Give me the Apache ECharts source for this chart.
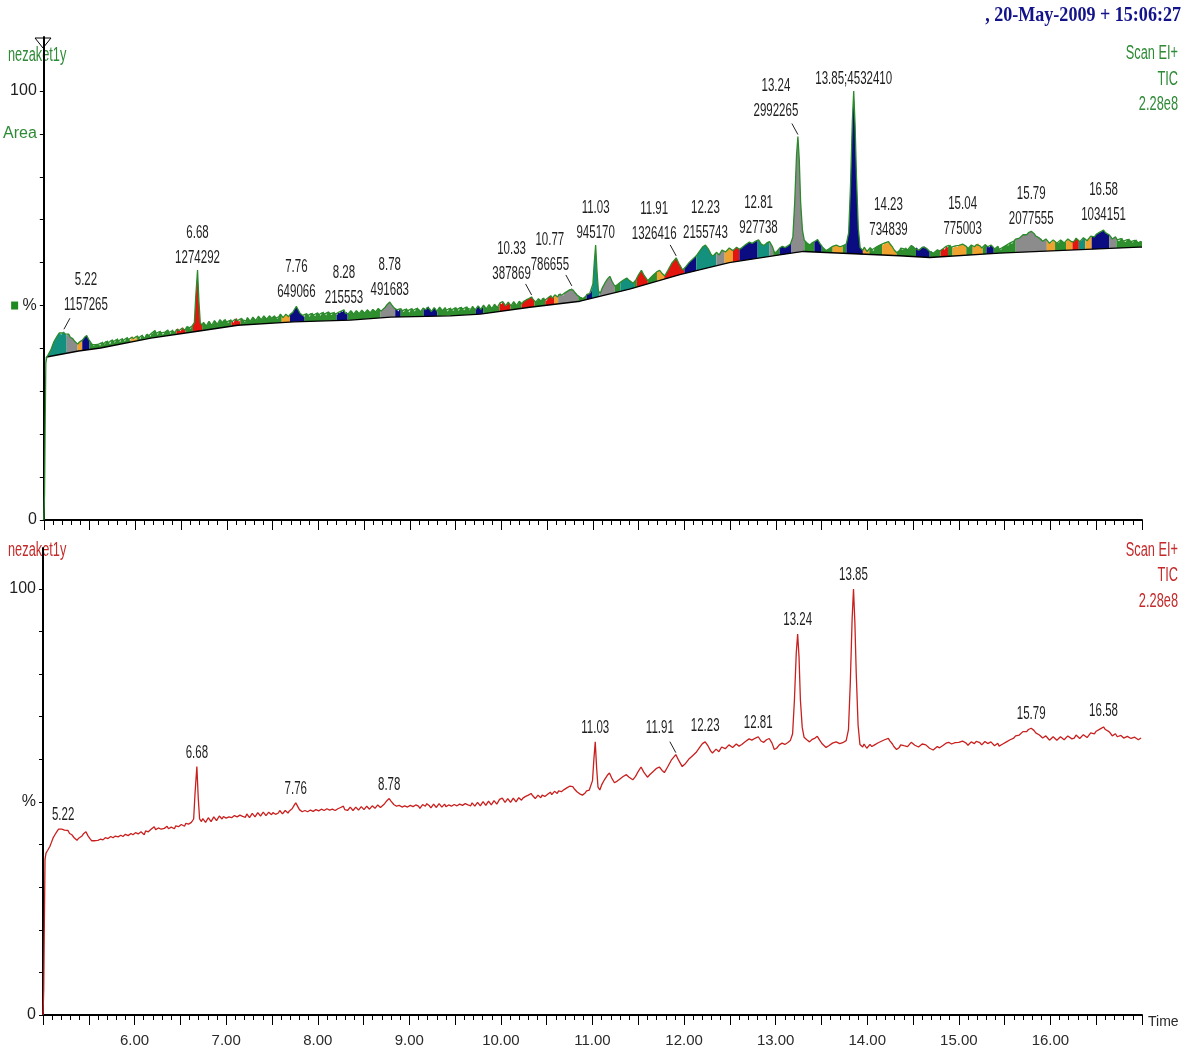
<!DOCTYPE html>
<html>
<head>
<meta charset="utf-8">
<title>nezaket1y TIC</title>
<script src="https://cdn.jsdelivr.net/npm/echarts@6/dist/echarts.min.js"></script>
<style>
  html, body { margin: 0; padding: 0; background: #ffffff; }
  #chart { width: 1204px; height: 1057px; }
</style>
</head>
<body>
<div id="chart"></div>
<script>
// ---------------------------------------------------------------------------
// Data
// ---------------------------------------------------------------------------

// Total ion current: [retention time (min), relative intensity (%)]
const ticTrace = [
  [5.000, 0.0], [5.008, 6.0], [5.015, 22.0], [5.022, 36.5], [5.033, 38.0], [5.05, 38.6],
  [5.076, 39.6], [5.09, 40.4], [5.109, 41.5], [5.13, 42.3], [5.153, 43.1], [5.17, 43.6],
  [5.19, 43.2], [5.205, 43.6], [5.22, 44.0], [5.235, 43.4], [5.25, 43.0], [5.273, 43.3],
  [5.29, 42.6], [5.316, 42.3], [5.34, 41.6], [5.371, 41.0], [5.39, 41.5], [5.41, 41.9],
  [5.425, 42.0], [5.445, 42.6], [5.469, 43.0], [5.49, 42.1], [5.513, 41.4], [5.53, 40.9],
  [5.545, 40.6], [5.57, 40.9],
  [5.60, 41.0], [5.615, 40.6], [5.63, 41.3], [5.643, 41.7], [5.655, 41.1], [5.668, 40.9],
  [5.68, 41.6], [5.695, 41.9], [5.71, 41.4], [5.725, 41.0], [5.74, 41.9], [5.752, 42.2],
  [5.764, 41.6], [5.777, 41.3], [5.79, 42.0], [5.805, 42.4], [5.82, 41.8], [5.835, 41.5],
  [5.85, 42.2], [5.862, 42.5], [5.873, 41.9], [5.887, 41.6], [5.90, 42.4], [5.915, 42.7],
  [5.93, 42.1], [5.945, 41.8], [5.96, 42.6], [5.971, 42.9], [5.982, 42.3], [5.996, 42.0],
  [6.01, 42.8], [6.025, 43.1], [6.04, 42.5], [6.055, 42.2], [6.07, 43.0], [6.08, 43.3],
  [6.091, 42.6], [6.105, 42.3], [6.12, 43.2], [6.135, 43.5], [6.15, 43.0], [6.165, 42.8],
  [6.18, 43.6], [6.19, 43.4], [6.20, 43.9], [6.215, 44.2], [6.23, 43.5], [6.245, 43.2],
  [6.26, 43.9], [6.275, 44.2], [6.29, 43.6], [6.30, 43.2], [6.31, 43.4], [6.325, 43.8],
  [6.34, 44.0], [6.355, 44.3], [6.37, 43.7], [6.385, 43.4], [6.40, 44.1], [6.41, 44.5],
  [6.42, 43.9], [6.435, 43.7], [6.45, 44.4], [6.465, 44.7], [6.48, 44.2], [6.495, 44.0],
  [6.51, 44.7], [6.52, 45.0], [6.53, 44.5], [6.545, 44.3], [6.56, 45.0], [6.575, 45.3],
  [6.59, 44.8], [6.605, 44.6], [6.62, 45.2], [6.645, 46.0], [6.66, 52.0], [6.68, 58.3],
  [6.695, 51.0], [6.71, 46.0],
  [6.73, 45.4], [6.745, 46.1], [6.76, 45.8], [6.775, 45.2], [6.79, 45.5], [6.805, 46.3],
  [6.82, 46.0], [6.835, 45.4], [6.85, 45.7], [6.865, 46.5], [6.88, 46.2], [6.895, 45.6],
  [6.91, 45.9], [6.925, 46.7], [6.94, 46.3], [6.955, 46.0], [6.97, 46.6], [6.985, 46.9],
  [7.00, 46.2], [7.015, 45.9], [7.03, 46.5], [7.045, 46.9], [7.06, 46.3], [7.075, 46.0],
  [7.09, 46.8], [7.105, 47.1], [7.12, 46.5], [7.135, 46.2], [7.15, 46.9], [7.165, 47.2],
  [7.18, 46.6], [7.195, 46.2], [7.21, 46.4], [7.225, 47.2], [7.24, 46.9], [7.255, 46.3],
  [7.27, 46.6], [7.285, 47.3], [7.30, 47.0], [7.315, 46.5], [7.33, 46.7], [7.345, 47.5],
  [7.36, 47.1], [7.375, 46.7], [7.39, 46.9], [7.405, 47.6], [7.42, 47.3], [7.435, 46.8],
  [7.45, 47.0], [7.465, 47.6], [7.48, 47.2], [7.495, 47.0], [7.51, 47.5], [7.525, 47.8],
  [7.54, 47.1], [7.555, 46.9], [7.57, 47.4], [7.585, 48.0], [7.60, 47.8], [7.615, 47.2],
  [7.63, 47.4], [7.645, 48.0], [7.66, 47.6], [7.675, 47.4], [7.69, 47.9],
  [7.72, 48.4], [7.745, 49.3], [7.76, 49.8], [7.775, 49.2], [7.80, 48.2],
  [7.83, 47.7], [7.845, 47.3], [7.86, 48.0], [7.875, 48.3], [7.89, 47.7], [7.905, 47.4],
  [7.92, 48.1], [7.935, 48.4], [7.95, 47.8], [7.965, 47.5], [7.98, 48.2], [7.995, 48.5],
  [8.01, 47.9], [8.025, 47.6], [8.04, 48.3], [8.055, 48.6], [8.07, 48.0], [8.085, 47.7],
  [8.10, 48.4], [8.115, 48.7], [8.13, 48.1], [8.145, 47.8], [8.16, 48.3], [8.175, 48.6],
  [8.19, 48.0], [8.205, 47.8], [8.22, 48.4], [8.235, 48.2], [8.25, 48.7], [8.265, 48.5],
  [8.28, 49.0], [8.295, 48.2], [8.31, 48.5], [8.325, 48.0], [8.34, 48.2], [8.355, 48.8],
  [8.37, 48.6], [8.385, 48.0], [8.40, 48.3], [8.415, 48.8], [8.43, 48.7], [8.445, 48.1],
  [8.46, 48.4], [8.475, 48.9], [8.49, 48.8], [8.505, 48.2], [8.52, 48.5], [8.535, 49.0],
  [8.55, 48.9], [8.565, 48.3], [8.58, 48.6], [8.595, 49.1], [8.61, 49.0], [8.625, 48.5],
  [8.64, 48.8], [8.655, 49.3], [8.67, 49.1], [8.685, 48.7], [8.70, 49.0],
  [8.73, 49.6], [8.755, 50.3], [8.78, 50.8], [8.80, 50.2], [8.83, 49.4],
  [8.86, 49.0], [8.875, 48.6], [8.89, 49.2], [8.905, 49.5], [8.92, 48.8], [8.935, 48.5],
  [8.95, 49.1], [8.965, 49.4], [8.98, 48.8], [8.995, 48.4], [9.01, 49.2], [9.025, 49.5],
  [9.04, 48.9], [9.055, 48.6], [9.07, 49.3], [9.085, 49.6], [9.10, 49.0], [9.115, 48.5],
  [9.13, 48.8], [9.145, 49.4], [9.16, 49.2], [9.175, 49.0], [9.19, 49.6], [9.205, 49.8],
  [9.22, 49.1], [9.235, 48.6], [9.25, 48.9], [9.265, 49.5], [9.28, 49.3], [9.295, 48.7],
  [9.31, 49.0], [9.325, 49.6], [9.34, 49.4], [9.355, 48.8], [9.37, 49.1], [9.385, 49.5],
  [9.40, 48.9], [9.415, 48.6], [9.43, 49.3], [9.445, 49.6], [9.46, 49.0], [9.475, 48.7],
  [9.49, 49.4], [9.505, 49.7], [9.52, 49.1], [9.535, 48.8], [9.55, 49.5], [9.565, 49.8],
  [9.58, 49.2], [9.595, 48.9], [9.61, 49.6], [9.625, 49.9], [9.64, 49.3], [9.655, 48.9],
  [9.67, 49.1], [9.685, 49.8], [9.70, 49.5], [9.715, 49.0], [9.73, 49.2], [9.745, 49.9],
  [9.76, 49.7], [9.775, 49.1], [9.79, 49.4], [9.805, 50.1], [9.82, 49.8], [9.835, 49.2],
  [9.85, 49.5], [9.865, 50.2], [9.88, 49.9], [9.895, 49.3], [9.91, 49.6], [9.925, 50.3],
  [9.94, 50.0], [9.955, 49.5], [9.97, 49.8], [9.985, 50.6], [10.00, 50.3], [10.015, 50.9],
  [10.03, 50.6], [10.045, 49.9], [10.06, 50.1], [10.075, 50.8], [10.09, 50.4], [10.105, 49.9],
  [10.12, 50.2], [10.135, 50.9], [10.15, 50.6], [10.165, 50.0], [10.18, 50.3], [10.195, 51.0],
  [10.21, 50.7], [10.225, 50.4], [10.24, 50.9], [10.255, 51.1], [10.27, 51.3], [10.285, 51.5],
  [10.30, 51.6], [10.315, 51.8], [10.33, 52.0], [10.345, 51.5], [10.36, 51.2], [10.375, 50.8],
  [10.39, 51.0], [10.405, 51.6], [10.42, 51.3], [10.435, 51.0], [10.45, 51.6], [10.465, 51.9],
  [10.48, 51.3], [10.495, 51.1], [10.51, 51.8], [10.525, 52.1], [10.54, 52.3], [10.555, 51.7],
  [10.57, 51.9], [10.585, 52.5], [10.60, 52.2], [10.615, 52.0], [10.63, 52.6], [10.645, 52.9],
  [10.66, 52.4], [10.675, 52.3], [10.69, 52.9], [10.705, 53.1], [10.72, 53.3], [10.735, 53.4],
  [10.75, 53.7], [10.77, 54.1], [10.785, 53.6], [10.80, 53.1], [10.815, 52.9], [10.83, 52.4],
  [10.845, 52.2], [10.86, 51.9], [10.875, 52.0], [10.89, 51.6], [10.905, 52.0], [10.92, 52.1],
  [10.935, 52.6], [10.95, 52.6], [10.965, 52.8], [10.98, 53.1],
  [11.00, 55.0], [11.015, 60.0], [11.03, 64.1], [11.045, 58.0], [11.06, 53.5], [11.08, 52.8],
  [11.10, 54.0], [11.13, 55.2], [11.16, 56.2], [11.185, 56.8], [11.21, 55.6], [11.24, 54.5],
  [11.27, 54.9], [11.30, 55.4], [11.33, 55.9], [11.37, 56.4], [11.40, 55.8], [11.44, 55.2],
  [11.47, 56.0], [11.50, 57.2], [11.53, 58.2], [11.56, 57.0], [11.60, 55.8], [11.63, 56.5],
  [11.66, 57.1], [11.70, 57.9], [11.73, 58.2], [11.76, 57.4], [11.785, 56.9], [11.82, 58.2],
  [11.86, 59.8], [11.91, 61.1], [11.94, 59.8], [11.98, 58.3], [12.01, 58.9], [12.05, 60.0],
  [12.09, 60.8], [12.13, 61.6], [12.17, 62.8], [12.20, 63.7], [12.23, 64.1], [12.26, 63.2],
  [12.29, 62.0], [12.31, 61.5], [12.35, 62.4], [12.38, 61.8], [12.41, 62.9], [12.45, 62.5],
  [12.49, 63.4], [12.53, 62.8], [12.57, 63.6], [12.60, 63.1], [12.63, 63.5], [12.67, 64.2],
  [12.71, 64.8], [12.74, 64.5], [12.78, 65.0], [12.81, 65.3], [12.84, 64.3], [12.87, 64.0],
  [12.90, 64.6], [12.93, 64.9], [12.96, 63.8], [12.985, 62.3], [13.01, 62.6], [13.04, 63.4],
  [13.07, 63.8], [13.10, 63.5], [13.13, 63.9], [13.16, 64.4], [13.185, 66.0], [13.205, 74.0],
  [13.225, 85.0], [13.24, 89.4], [13.255, 84.0], [13.27, 74.0], [13.29, 67.5], [13.31, 65.2],
  [13.34, 64.6], [13.37, 64.1], [13.40, 64.7], [13.43, 65.0], [13.455, 65.4], [13.48, 64.5],
  [13.51, 63.6], [13.55, 62.8], [13.58, 63.2], [13.62, 63.8], [13.66, 64.1], [13.70, 63.7],
  [13.74, 64.0], [13.77, 64.4], [13.795, 67.0], [13.815, 78.0], [13.835, 93.0], [13.85, 100.0],
  [13.865, 92.0], [13.88, 80.0], [13.90, 68.0],
  [13.92, 63.5], [13.935, 63.1], [13.95, 62.9], [13.965, 63.6], [13.98, 63.3], [13.995, 62.6],
  [14.01, 62.8], [14.03, 63.5], [14.05, 63.0], [14.065, 62.7], [14.08, 63.4], [14.10, 63.7],
  [14.12, 63.9], [14.14, 64.2], [14.16, 64.3], [14.175, 64.1], [14.19, 64.6], [14.21, 64.5],
  [14.23, 64.9], [14.245, 64.4], [14.26, 64.0], [14.275, 63.6], [14.29, 63.0], [14.305, 62.6],
  [14.32, 62.3], [14.335, 62.7], [14.35, 62.8], [14.365, 63.4], [14.38, 63.0], [14.40, 63.2],
  [14.42, 63.6], [14.44, 63.0], [14.46, 63.3], [14.48, 64.0], [14.50, 63.9], [14.52, 63.3],
  [14.54, 63.5], [14.56, 62.9], [14.58, 63.1], [14.60, 63.6], [14.62, 63.8], [14.64, 63.4],
  [14.66, 63.2], [14.68, 62.6], [14.70, 62.7], [14.72, 62.2], [14.74, 62.4], [14.765, 63.0],
  [14.79, 62.7], [14.81, 63.1], [14.83, 63.3], [14.845, 63.0], [14.86, 63.8], [14.875, 63.5],
  [14.89, 64.0], [14.905, 64.2], [14.92, 63.6], [14.94, 63.4], [14.96, 63.9], [14.98, 63.6],
  [15.00, 64.0], [15.02, 64.1], [15.04, 64.3], [15.06, 63.9], [15.08, 63.8], [15.10, 63.3],
  [15.12, 63.5], [15.135, 64.1], [15.15, 64.0], [15.17, 63.7], [15.19, 64.2], [15.21, 64.5],
  [15.23, 63.9], [15.25, 63.4], [15.27, 63.6], [15.285, 64.2], [15.30, 64.0], [15.315, 63.7],
  [15.33, 63.5], [15.35, 64.1], [15.37, 63.8], [15.39, 63.2], [15.41, 63.4], [15.425, 63.8],
  [15.44, 63.1], [15.46, 63.0], [15.48, 63.6], [15.50, 63.9], [15.52, 64.1], [15.54, 64.0],
  [15.56, 64.6], [15.58, 64.4], [15.60, 65.0], [15.62, 65.5], [15.64, 65.6], [15.66, 65.7],
  [15.68, 66.1], [15.70, 66.5], [15.72, 66.6], [15.74, 66.5], [15.76, 67.0], [15.775, 67.1],
  [15.79, 67.3], [15.805, 66.9], [15.82, 66.8], [15.84, 66.2], [15.86, 66.1], [15.88, 65.7],
  [15.90, 65.6], [15.915, 65.0], [15.93, 65.2], [15.95, 65.5], [15.97, 65.0], [15.99, 64.5],
  [16.01, 64.6], [16.03, 65.3], [16.05, 65.0], [16.07, 64.5], [16.09, 64.6], [16.11, 65.3],
  [16.13, 65.1], [16.15, 64.6], [16.17, 64.8], [16.19, 65.5], [16.21, 65.3], [16.235, 64.8],
  [16.26, 65.0], [16.28, 65.7], [16.30, 65.4], [16.32, 64.9], [16.34, 65.1], [16.36, 65.8],
  [16.38, 65.6], [16.40, 65.1], [16.42, 65.5], [16.44, 66.2], [16.46, 66.1], [16.48, 66.0],
  [16.50, 66.6], [16.52, 66.9], [16.54, 67.1], [16.56, 67.2], [16.58, 67.6], [16.60, 67.0],
  [16.62, 66.7], [16.64, 66.5], [16.66, 66.0], [16.675, 65.5], [16.69, 65.7], [16.71, 66.0],
  [16.73, 65.3], [16.75, 65.0], [16.77, 65.6], [16.785, 65.8], [16.80, 65.0], [16.82, 64.8],
  [16.84, 65.4], [16.86, 65.6], [16.88, 64.9], [16.90, 64.7], [16.92, 65.2], [16.94, 65.4],
  [16.96, 64.6], [16.975, 64.9], [16.99, 65.0]
];

// Integration baseline nodes: [time, %]
const baselineNodes = [
  [5.03, 38.0], [5.38, 39.4], [5.62, 40.1], [6.17, 42.4], [6.68, 44.0], [7.12, 45.4],
  [7.73, 46.2], [8.35, 46.6], [8.79, 47.3], [9.44, 47.6], [9.77, 48.0], [10.31, 49.6],
  [10.86, 51.0], [11.40, 53.8], [11.95, 57.2], [12.49, 60.0], [13.04, 61.8], [13.30, 62.6],
  [14.35, 61.6], [14.68, 61.2], [15.44, 62.2], [16.97, 63.6], [17.00, 63.6]
];

// Integration window edges (min), consecutive windows share an edge
const windowEdges = [
  5.02, 5.25, 5.37, 5.42, 5.50, 5.95, 6.02, 6.45, 6.55, 6.63, 6.73, 7.05, 7.15, 7.60,
  7.69, 7.85, 8.20, 8.32, 8.68, 8.84, 8.90, 9.15, 9.30, 9.72, 9.80, 9.98, 10.10, 10.22,
  10.36, 10.48, 10.58, 10.62, 10.84, 10.93, 10.99, 11.07, 11.24, 11.30, 11.45, 11.48,
  11.60, 11.70, 11.78, 12.00, 12.13, 12.35, 12.44, 12.53, 12.60, 12.80, 12.93, 12.97,
  13.04, 13.17, 13.31, 13.42, 13.50, 13.62, 13.73, 13.77, 13.95, 14.02, 14.16, 14.32,
  14.53, 14.68, 14.80, 14.88, 14.93, 15.08, 15.15, 15.26, 15.30, 15.38, 15.62, 15.96,
  16.05, 16.17, 16.24, 16.31, 16.38, 16.45, 16.64, 16.72, 17.00
];

// Labelled peaks, upper trace: retention time and integrated area
const peakTimes = [5.22, 6.68, 7.76, 8.28, 8.78, 10.33, 10.77, 11.03, 11.91, 12.23,
                   12.81, 13.24, 13.85, 14.23, 15.04, 15.79, 16.58];
const peakAreas = [1157265, 1274292, 649066, 215553, 491683, 387869, 786655, 945170, 1326416,
                   2155743, 927738, 2992265, 4532410, 734839, 775003, 2077555, 1034151];

// Labelled peaks, lower trace
const lowerPeakTimes = [5.22, 6.68, 7.76, 8.78, 11.03, 11.91, 12.23, 12.81, 13.24, 13.85, 15.79, 16.58];

// Axis marks
const timeLabels = [6, 7, 8, 9, 10, 11, 12, 13, 14, 15, 16];
const intensityTicks = [0, 10, 20, 30, 40, 50, 60, 70, 80, 90, 100];

// ---------------------------------------------------------------------------
// Styles and layout
// ---------------------------------------------------------------------------
const SANS = '"Liberation Sans", Arial, sans-serif';
const SQUEEZE = 0.64;              // horizontal squeeze for the tall, narrow annotation text
const GREEN_TXT = '#2e8a36';
const RED_TXT = '#c42a2a';
const palette = {
  teal: '#14907e', grey: '#8c8c8c', orange: '#f0a22e',
  navy: '#0b0b82', red: '#e3150f', green: '#2f8f2f'
};
const windowColors = [
  'teal', 'grey', 'orange', 'navy', 'green', 'orange', 'green', 'red', 'green', 'red',
  'green', 'red', 'green', 'orange', 'navy', 'green', 'navy', 'green', 'grey', 'navy',
  'green', 'navy', 'green', 'navy', 'green', 'red', 'green', 'red', 'green', 'red',
  'orange', 'grey', 'green', 'navy', 'teal', 'grey', 'green', 'teal', 'green', 'red',
  'green', 'orange', 'red', 'navy', 'teal', 'grey', 'orange', 'red', 'navy', 'teal',
  'grey', 'green', 'navy', 'grey', 'green', 'navy', 'green', 'orange', 'green', 'navy',
  'orange', 'green', 'orange', 'green', 'navy', 'green', 'red', 'green', 'orange', 'green',
  'orange', 'green', 'navy', 'green', 'grey', 'orange', 'green', 'orange', 'red', 'teal',
  'orange', 'navy', 'grey', 'green'
];
// Label placement around a peak apex: dx, gap above apex, leader line
const upperLabelLayout = {
  '5.22': { dx: 22, gap: 26, leader: true },
  '7.76': { gap: 14 },
  '10.33': { dx: -20, gap: 23, leader: true },
  '10.77': { dx: -22, gap: 23, leader: true },
  '11.91': { dx: -22, gap: 24, leader: true },
  '13.24': { dx: -22, gap: 25, leader: true },
  '13.85': { gap: 12, inline: true },
  '15.04': { gap: 15 },
  '16.58': { gap: 15 }
};
const lowerLabelLayout = {
  '5.22': { gap: 12 },
  '11.91': { dx: -16, gap: 27, leader: true },
  '12.23': { gap: 16 },
  '16.58': { gap: 16 }
};

// ---------------------------------------------------------------------------
// Helpers
// ---------------------------------------------------------------------------
function valueAt(series, t) {
  if (t <= series[0][0]) return series[0][1];
  for (let i = 1; i < series.length; i++) {
    if (series[i][0] >= t) {
      const a = series[i - 1], b = series[i];
      return a[1] + (b[1] - a[1]) * (t - a[0]) / (b[0] - a[0]);
    }
  }
  return series[series.length - 1][1];
}

const windows = windowEdges.slice(0, -1).map((t, i) => [t, windowEdges[i + 1]]);

// Shaded area between the trace and the baseline for one integration window
function renderWindow(params, api) {
  const t0 = api.value(0), t1 = api.value(1);
  const pts = [api.coord([t0, valueAt(ticTrace, t0)])];
  ticTrace.forEach(p => { if (p[0] > t0 && p[0] < t1) pts.push(api.coord(p)); });
  pts.push(api.coord([t1, valueAt(ticTrace, t1)]));
  pts.push(api.coord([t1, valueAt(baselineNodes, t1)]));
  for (let i = baselineNodes.length - 1; i >= 0; i--) {
    const p = baselineNodes[i];
    if (p[0] > t0 && p[0] < t1) pts.push(api.coord(p));
  }
  pts.push(api.coord([t0, valueAt(baselineNodes, t0)]));
  return {
    type: 'polygon',
    shape: { points: pts },
    style: { fill: palette[windowColors[params.dataIndex]] || palette.green },
    silent: true
  };
}

function labelText(str, x, y) {
  return {
    type: 'text', x: x, y: y, scaleX: SQUEEZE,
    style: { text: str, fill: '#1e1e1e', font: '18px ' + SANS, align: 'center', verticalAlign: 'middle' }
  };
}

function leaderLine(apex, dx) {
  const s = dx > 0 ? 1 : -1;
  return {
    type: 'line',
    shape: { x1: apex[0] + s * 6, y1: apex[1] - 13, x2: apex[0], y2: apex[1] - 2 },
    style: { stroke: '#222', lineWidth: 1 }
  };
}

function makeLabelRenderer(layout, withArea) {
  return function (params, api) {
    const t = api.value(0);
    const apex = api.coord([t, api.value(1)]);
    const key = t.toFixed(2);
    const lay = layout[key] || {};
    const dx = lay.dx || 0;
    const gap = lay.gap !== undefined ? lay.gap : (withArea ? 12 : 14);
    const cx = apex[0] + dx;
    const yLow = apex[1] - gap;
    const children = [];
    if (withArea && !lay.inline) {
      children.push(labelText(key, cx, yLow - 25));
      children.push(labelText(String(peakAreas[params.dataIndex]), cx, yLow));
    } else if (withArea) {
      children.push(labelText(key + ';' + peakAreas[params.dataIndex], cx, yLow));
    } else {
      children.push(labelText(key, cx, yLow));
    }
    if (lay.leader) children.push(leaderLine(apex, dx));
    return { type: 'group', children: children };
  };
}

// ---------------------------------------------------------------------------
// Chart
// ---------------------------------------------------------------------------
const chart = echarts.init(document.getElementById('chart'), null, { renderer: 'canvas' });

function timeAxis(gridIndex, withLabels) {
  return {
    gridIndex: gridIndex, type: 'value', min: 5, max: 17, interval: 0.5,
    axisLine: { show: true, onZero: false, lineStyle: { color: '#000', width: 2 } },
    axisTick: { show: true, length: 10, lineStyle: { color: '#000', width: 1 } },
    minorTick: { show: true, splitNumber: 5, length: 5, lineStyle: { color: '#000', width: 1 } },
    splitLine: { show: false },
    axisLabel: {
      show: withLabels, customValues: timeLabels, margin: 18,
      formatter: v => v.toFixed(2), color: '#2a2a2a', fontSize: 15, fontFamily: SANS
    },
    name: withLabels ? 'Time' : '', nameLocation: 'end', nameGap: 6,
    nameTextStyle: { color: '#2a2a2a', fontSize: 14, fontFamily: SANS, verticalAlign: 'top', padding: [0, 0, 0, 0] }
  };
}

function intensityAxis(gridIndex, max, upper) {
  return {
    gridIndex: gridIndex, type: 'value', min: 0, max: max,
    axisLine: { show: true, onZero: false, lineStyle: { color: '#000', width: 2 } },
    axisTick: { show: true, customValues: intensityTicks, length: 4, lineStyle: { color: '#000', width: 1 } },
    splitLine: { show: false },
    axisLabel: {
      customValues: upper ? [0, 50, 90, 100] : [0, 50, 100],
      margin: 7, color: '#1e1e1e', fontSize: 16, fontFamily: SANS,
      formatter: v => {
        if (v === 50) return upper ? '{sq|} %' : '%';
        if (v === 90) return '{g|Area}';
        return String(v);
      },
      rich: {
        sq: { backgroundColor: '#1f8a1f', width: 7, height: 8 },
        g: { color: GREEN_TXT, fontSize: 16, fontFamily: SANS }
      }
    }
  };
}

function cornerText(x, y, text, color, align) {
  return {
    type: 'text', x: x, y: y, scaleX: SQUEEZE,
    style: { text: text, fill: color, font: '20px ' + SANS, align: align, verticalAlign: 'middle' }
  };
}

const option = {
  backgroundColor: '#ffffff',
  animation: false,
  grid: [
    { left: 43, top: 37, width: 1099, height: 483 },
    { left: 43, top: 548, width: 1099, height: 467 }
  ],
  xAxis: [timeAxis(0, false), timeAxis(1, true)],
  yAxis: [intensityAxis(0, 112.6, true), intensityAxis(1, 109.6, false)],
  graphic: [
    {
      type: 'text', x: 1181, y: 16, scaleX: 0.86,
      style: { text: ', 20-May-2009 + 15:06:27', fill: '#12128a',
               font: 'bold 21px "Liberation Serif", "DejaVu Serif", serif', align: 'right', verticalAlign: 'middle' }
    },
    cornerText(8, 55, 'nezaket1y', GREEN_TXT, 'left'),
    cornerText(1178, 53, 'Scan EI+', GREEN_TXT, 'right'),
    cornerText(1178, 79, 'TIC', GREEN_TXT, 'right'),
    cornerText(1178, 104, '2.28e8', GREEN_TXT, 'right'),
    cornerText(8, 550, 'nezaket1y', RED_TXT, 'left'),
    cornerText(1178, 550, 'Scan EI+', RED_TXT, 'right'),
    cornerText(1178, 575, 'TIC', RED_TXT, 'right'),
    cornerText(1178, 601, '2.28e8', RED_TXT, 'right'),
    {
      type: 'polyline', z: 10,
      shape: { points: [[35, 38], [51, 38], [43, 48], [35, 38]] },
      style: { stroke: '#000', fill: 'none', lineWidth: 1 }
    }
  ],
  series: [
    {
      type: 'custom', name: 'windows', xAxisIndex: 0, yAxisIndex: 0,
      renderItem: renderWindow, data: windows, z: 2, silent: true
    },
    {
      type: 'line', name: 'baseline', xAxisIndex: 0, yAxisIndex: 0,
      data: baselineNodes, showSymbol: false, z: 3, silent: true,
      lineStyle: { color: '#000', width: 1.3 }
    },
    {
      type: 'line', name: 'TIC', xAxisIndex: 0, yAxisIndex: 0,
      data: ticTrace, showSymbol: false, z: 4, silent: true,
      lineStyle: { color: '#2b8a2b', width: 1.3 }
    },
    {
      type: 'custom', name: 'upper labels', xAxisIndex: 0, yAxisIndex: 0, clip: false,
      renderItem: makeLabelRenderer(upperLabelLayout, true),
      data: peakTimes.map(t => [t, valueAt(ticTrace, t)]), z: 6, silent: true
    },
    {
      type: 'line', name: 'TIC raw', xAxisIndex: 1, yAxisIndex: 1,
      data: ticTrace, showSymbol: false, z: 4, silent: true,
      lineStyle: { color: '#c8201e', width: 1.3 }
    },
    {
      type: 'custom', name: 'lower labels', xAxisIndex: 1, yAxisIndex: 1, clip: false,
      renderItem: makeLabelRenderer(lowerLabelLayout, false),
      data: lowerPeakTimes.map(t => [t, valueAt(ticTrace, t)]), z: 6, silent: true
    }
  ]
};

chart.setOption(option);
</script>
</body>
</html>
